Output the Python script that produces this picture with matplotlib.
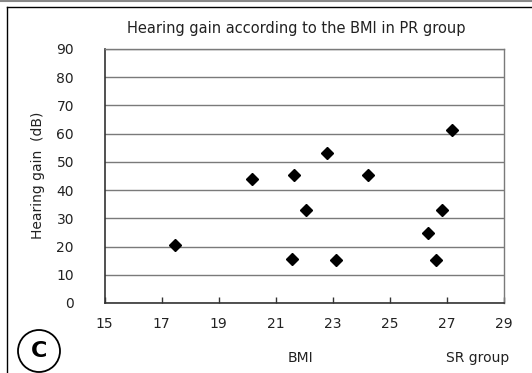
import matplotlib
matplotlib.use("Agg")
import matplotlib.pyplot as plt
from matplotlib.lines import Line2D
from matplotlib.patches import Ellipse

# BMI and hearing gain
bmi = [17.48, 20.16, 21.57, 21.63, 22.05, 22.79, 23.10, 24.23, 26.32, 26.60, 26.83, 27.17]
gain = [20.6, 44.0, 15.7, 45.4, 32.9, 53.1, 15.1, 45.4, 24.7, 15.1, 32.9, 61.3]

x_ticks = [15, 17, 19, 21, 23, 25, 27, 29]
y_ticks = [0, 10, 20, 30, 40, 50, 60, 70, 80, 90]

title = "Hearing gain according to the BMI in PR group"
text_color = "#222222"

plt.rcParams["font.family"] = ["DejaVu Sans"]

fig = plt.figure(figsize=(5.32, 3.73), dpi=100)
ax = fig.add_axes([104.5 / 532, 70 / 373, 399.5 / 532, 254 / 373])

ax.plot(bmi, gain, linestyle="none", marker="D", markersize=5.8,
        color="black", zorder=3)

ax.set_xlim(15, 29)
ax.set_ylim(0, 90)
ax.set_xticks(x_ticks)
ax.set_yticks(y_ticks)
ax.yaxis.grid(True, color="#7a7a7a", linewidth=1.0)
ax.set_axisbelow(True)

ax.tick_params(axis="x", direction="in", length=4, width=1, color="#333333",
               pad=10, labelsize=10, labelcolor=text_color)
ax.tick_params(axis="y", length=0, pad=22, labelsize=10, labelcolor=text_color)

for side in ["top", "right"]:
    ax.spines[side].set_color("#7a7a7a")
    ax.spines[side].set_linewidth(1.0)
for side in ["left", "bottom"]:
    ax.spines[side].set_color("#333333")
    ax.spines[side].set_linewidth(1.2)

# texts placed in pixel coordinates of the figure
def fx(px):
    return px / 532

def fy(py):
    return 1 - py / 373

fig.text(fx(296), fy(29), title, ha="center", va="center", fontsize=10.5,
         color=text_color)
fig.text(fx(38), fy(175), "Hearing gain  (dB)", ha="center", va="center",
         rotation=90, fontsize=10, color=text_color)
fig.text(fx(300), fy(358), "BMI", ha="center", va="center", fontsize=10,
         color=text_color)
fig.text(fx(509), fy(358), "SR group", ha="right", va="center", fontsize=10,
         color=text_color)

# panel label in a circle
circ = Ellipse((fx(39), fy(351)), 42 / 532, 42 / 373, transform=fig.transFigure,
               facecolor="white", edgecolor="black", linewidth=1.3)
fig.patches.append(circ)
fig.text(fx(39), fy(351), "C", ha="center", va="center", fontsize=16,
         fontweight="bold", color="black")

# frame lines around the panel
fig.add_artist(Line2D([0, 1], [fy(0.8), fy(0.8)], transform=fig.transFigure,
                      color="#888888", linewidth=1.5))
fig.add_artist(Line2D([fx(7), 1], [fy(7), fy(7)], transform=fig.transFigure,
                      color="black", linewidth=1))
fig.add_artist(Line2D([fx(7), fx(7)], [fy(7), 0], transform=fig.transFigure,
                      color="black", linewidth=1))

fig.savefig("out.png", dpi=100)
